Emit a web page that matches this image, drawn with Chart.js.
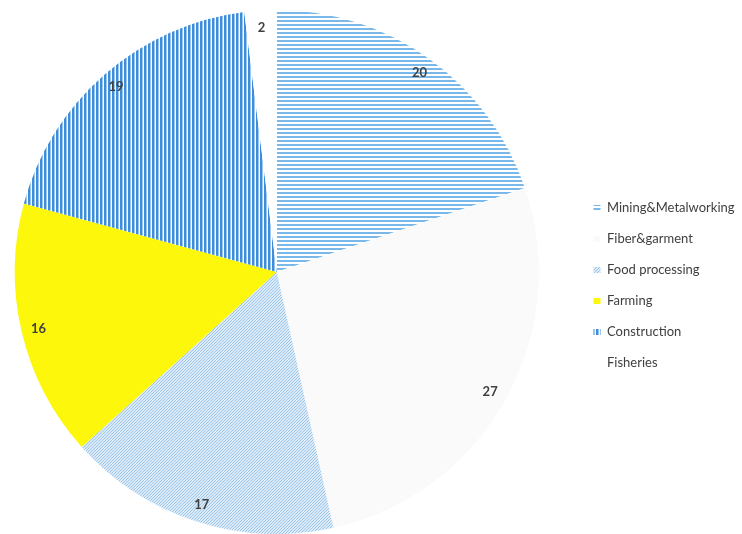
<!DOCTYPE html>
<html>
<head>
<meta charset="utf-8">
<script src="https://cdn.jsdelivr.net/npm/chart.js@4.4.1/dist/chart.umd.min.js"></script>
<style>
  html, body { margin: 0; padding: 0; background: #fff; }
  #wrap { width: 742px; height: 534px; position: relative; }
</style>
</head>
<body>
<div id="wrap"><canvas id="pieChart"></canvas></div>
<script>
const sectors = ['Mining&Metalworking', 'Fiber&garment', 'Food processing', 'Farming', 'Construction', 'Fisheries'];
const shares = [20, 27, 17, 16, 19, 2];

// small tiles used as fill patterns (hatching like the original)
function makePattern(w, h, paint) {
    const c = document.createElement('canvas');
    c.width = w;
    c.height = h;
    const g = c.getContext('2d');
    g.fillStyle = '#ffffff';
    g.fillRect(0, 0, w, h);
    paint(g);
    return g.createPattern(c, 'repeat');
}

const hLines = makePattern(4, 4, g => {
    g.fillStyle = '#7ab8ea';
    g.fillRect(0, 0, 4, 2);
});
const vLines = makePattern(4, 4, g => {
    g.fillStyle = '#3f8dd8';
    g.fillRect(0, 0, 2, 4);
    g.fillStyle = '#9cc8f0';
    g.fillRect(2, 0, 1, 4);
});
const diag = makePattern(3, 3, g => {
    g.fillStyle = '#dcebf7';
    g.fillRect(0, 0, 3, 3);
    g.fillStyle = '#9cc6e8';
    for (let i = 0; i < 3; i++) g.fillRect(i, 2 - i, 1, 1);
});

const colors = [hLines, '#fafafa', diag, '#fdf70c', vLines, '#ffffff'];

// the pie sits a bit left of the centre of the free area in the original
const shiftPie = {
    id: 'shiftPie',
    afterLayout(chart) {
        chart.chartArea.left -= 11;
        chart.chartArea.right -= 11;
    }
};

// numbers near the outer edge of each slice
const sliceLabels = {
    id: 'sliceLabels',
    afterDatasetsDraw(chart) {
        const ctx = chart.ctx;
        const meta = chart.getDatasetMeta(0);
        ctx.save();
        ctx.font = 'bold 13px Lato';
        ctx.fillStyle = '#404040';
        ctx.textAlign = 'center';
        ctx.textBaseline = 'middle';
        meta.data.forEach((arc, i) => {
            const p = arc.getProps(['x', 'y', 'startAngle', 'endAngle', 'outerRadius'], true);
            const mid = (p.startAngle + p.endAngle) / 2;
            const r = p.outerRadius * 0.935;
            ctx.fillText(shares[i], p.x + Math.cos(mid) * r, p.y + Math.sin(mid) * r);
        });
        ctx.restore();
    }
};

const ctxPie = document.getElementById('pieChart').getContext('2d');
new Chart(ctxPie, {
    type: 'pie',
    data: {
        labels: sectors,
        datasets: [{
            data: shares,
            backgroundColor: colors,
            borderWidth: 0
        }]
    },
    options: {
        responsive: true,
        maintainAspectRatio: false,
        animation: { duration: 0 },
        layout: {
            padding: { left: 0, right: 4, top: 10, bottom: 0 }
        },
        plugins: {
            tooltip: { enabled: false },
            legend: {
                position: 'right',
                maxWidth: 162.5,
                title: {
                    display: true,
                    text: '',
                    font: { size: 10 },
                    padding: { top: 15, bottom: 0 }
                },
                labels: {
                    boxWidth: 7,
                    boxHeight: 6,
                    padding: 18,
                    color: '#404040',
                    font: { family: 'Lato', size: 13 }
                }
            }
        }
    },
    plugins: [shiftPie, sliceLabels]
});
</script>
</body>
</html>
